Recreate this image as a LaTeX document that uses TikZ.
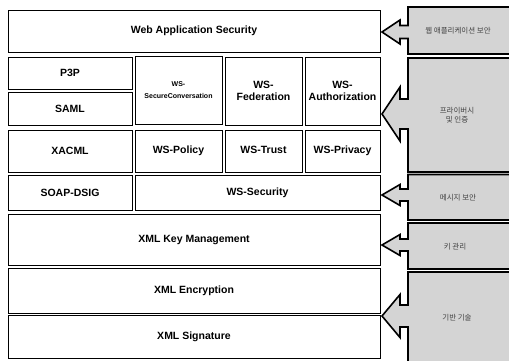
\documentclass[tikz,border=0pt]{standalone}
\usepackage{fontspec}
\setmainfont{Liberation Sans}
\newfontfamily\korfont{Noto Sans CJK KR}
\usetikzlibrary{positioning}

\begin{document}
\begin{tikzpicture}[
  x=1pt, y=-1pt,
  every node/.style={font=\fontsize{10.5}{11.5}\selectfont\bfseries},
  lay/.style={rectangle, draw, line width=0.8pt, align=center, inner sep=0pt},
  side/.style={draw, line width=1.6pt, fill=black!17, line join=miter},
  tag/.style={font=\fontsize{7.5}{9.5}\selectfont\korfont, text=black!75, align=center},
]
\clip (0,0) rectangle (509,360);
\fill[white] (0,0) rectangle (509,360);

% layer stack
\node[lay, minimum width=372pt, minimum height=42pt] (WAS) at (194,31) {Web Application Security};
\node[lay, minimum width=124pt, minimum height=32pt] (P3P) at (70,73) {P3P};
\node[lay, minimum width=124pt, minimum height=33pt] (SAML) at (70,108.5) {SAML};
\node[lay, minimum width=87pt, minimum height=68pt] (WSSC) at (178.5,90)
  {\fontsize{7}{8}\selectfont WS-\\\fontsize{7}{8}\selectfont SecureConversation};
\node[lay, minimum width=77pt, minimum height=68pt] (WSFED) at (263.5,91) {WS-\\Federation};
\node[lay, minimum width=75pt, minimum height=68pt] (WSAUTH) at (342.5,91) {WS-\\Authorization};
\node[lay, minimum width=124pt, minimum height=42pt] (XACML) at (70,151) {XACML};
\node[lay, minimum width=87pt, minimum height=42pt] (WSPOL) at (178.5,151) {WS-Policy};
\node[lay, minimum width=77pt, minimum height=42pt] (WSTRUST) at (263.5,151) {WS-Trust\strut};
\node[lay, minimum width=75pt, minimum height=42pt] (WSPRIV) at (342.5,151) {WS-Privacy};
\node[lay, minimum width=124pt, minimum height=35pt] (SOAP) at (70,192.5) {SOAP-DSIG};
\node[lay, minimum width=245pt, minimum height=35pt] (WSSEC) at (257.5,192.5) {WS-Security};
\node[lay, minimum width=372pt, minimum height=51pt] (XKMS) at (194,239.5) {XML Key Management};
\node[lay, minimum width=372pt, minimum height=45pt] (XENC) at (194,290.5) {XML Encryption};
\node[lay, minimum width=372pt, minimum height=43pt] (XSIG) at (194,336.5) {XML Signature};

% side panels with arrows
\foreach \t/\b/\m/\hh/\sh in {7/54/32/12/6.5, 58/172/114/27/15, 174.5/220/195/10.5/6,
                               223/269/245/10.5/6, 272/370/316/21.5/11}
  \draw[side] (530,\t) -- (408,\t) -- (408,\m-\sh) -- (400,\m-\sh) -- (400,\m-\hh)
    -- (382,\m) -- (400,\m+\hh) -- (400,\m+\sh) -- (408,\m+\sh) -- (408,\b) -- (530,\b);

\node[tag] (tWAS) at (458,31) {웹 애플리케이션 보안};
\node[tag] (tPRIV) at (457,115) {프라이버시\\및 인증};
\node[tag] (tMSG) at (458,198) {메시지 보안};
\node[tag] (tKEY) at (455,247) {키 관리};
\node[tag] (tBASE) at (457,318) {기반 기술};
\end{tikzpicture}
\end{document}
